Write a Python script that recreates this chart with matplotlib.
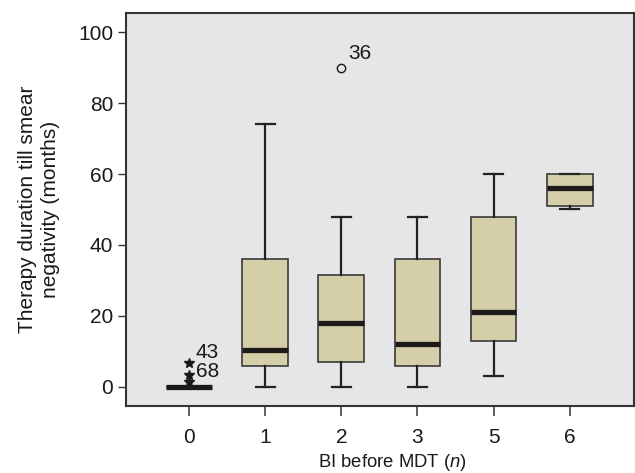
import matplotlib
matplotlib.use("Agg")
import matplotlib.pyplot as plt

plt.rcParams['font.family'] = ['Liberation Sans', 'DejaVu Sans']
plt.rcParams['mathtext.fontset'] = 'custom'
plt.rcParams['mathtext.it'] = 'Liberation Sans:italic'
plt.rcParams['mathtext.rm'] = 'Liberation Sans'

categories = ['0', '1', '2', '3', '5', '6']
whisker_low = [0, 0, 0, 0, 3, 50]
q1 = [0, 6, 7, 6, 13, 51]
median = [0, 10.5, 18, 12, 21, 56]
q3 = [0, 36, 31.5, 36, 48, 60]
whisker_high = [0, 74, 48, 48, 60, 60]

# extreme values (stars) and outliers (circles): (category index, value, label)
extremes = [(0, 6.8, '43'), (0, 3.4, ''), (0, 1.4, '68')]
outliers = [(2, 90, '36')]

box_color = '#d4cfa9'
bg_color = '#e6e6e8'

fig = plt.figure(figsize=(6.35, 4.73), dpi=100)
ax = fig.add_axes([0.198, 0.1416, 0.8, 0.831])
ax.set_facecolor(bg_color)

stats = []
for i in range(len(categories)):
    stats.append(dict(med=median[i], q1=q1[i], q3=q3[i],
                      whislo=whisker_low[i], whishi=whisker_high[i],
                      fliers=[], label=categories[i]))

positions = list(range(len(categories)))
ax.bxp(stats, positions=positions, widths=0.6, patch_artist=True,
       showfliers=False, capwidths=0.25,
       boxprops=dict(facecolor=box_color, edgecolor='#3a3a3a', linewidth=1.2),
       medianprops=dict(color='#1e1a1a', linewidth=3.8, solid_capstyle='butt'),
       whiskerprops=dict(color='#222222', linewidth=1.6),
       capprops=dict(color='#222222', linewidth=1.6))

for (ci, v, lab) in extremes:
    ax.plot(positions[ci], v, marker='*', color='#1a1a1a', markersize=7,
            linestyle='none', zorder=5)
    if lab:
        ax.annotate(lab, (positions[ci], v), xytext=(5, 7.5), textcoords='offset points',
                    fontsize=15, color='#1a1a1a', va='center', ha='left')

for (ci, v, lab) in outliers:
    ax.plot(positions[ci], v, marker='o', markerfacecolor='none',
            markeredgecolor='#1a1a1a', markersize=6, markeredgewidth=1, linestyle='none')
    ax.annotate(lab, (positions[ci], v), xytext=(5, 10), textcoords='offset points',
                fontsize=15, color='#1a1a1a', va='center', ha='left')

ax.set_xlim(-0.83, 5.84)
ax.set_ylim(-5.4, 105.4)
ax.set_yticks([0, 20, 40, 60, 80, 100])
ax.set_xticks(positions)
ax.set_xticklabels(categories)
ax.tick_params(axis='both', labelsize=15, colors='#1a1a1a')
ax.tick_params(axis='y', length=6, width=1, color='#333333', pad=3)
ax.tick_params(axis='x', length=7, width=1.3, color='#555555', pad=9)
for s in ax.spines.values():
    s.set_color('#333333')
    s.set_linewidth(1.5)

ax.set_xlabel('BI before MDT ($n$)', fontsize=13.3, color='#1a1a1a', va='center')
ax.xaxis.set_label_coords(0.526, -0.1425)
ax.set_ylabel('Therapy duration till smear\nnegativity (months)', fontsize=15,
              color='#1a1a1a', labelpad=13, linespacing=1.25)

fig.savefig('out.png', dpi=100)
